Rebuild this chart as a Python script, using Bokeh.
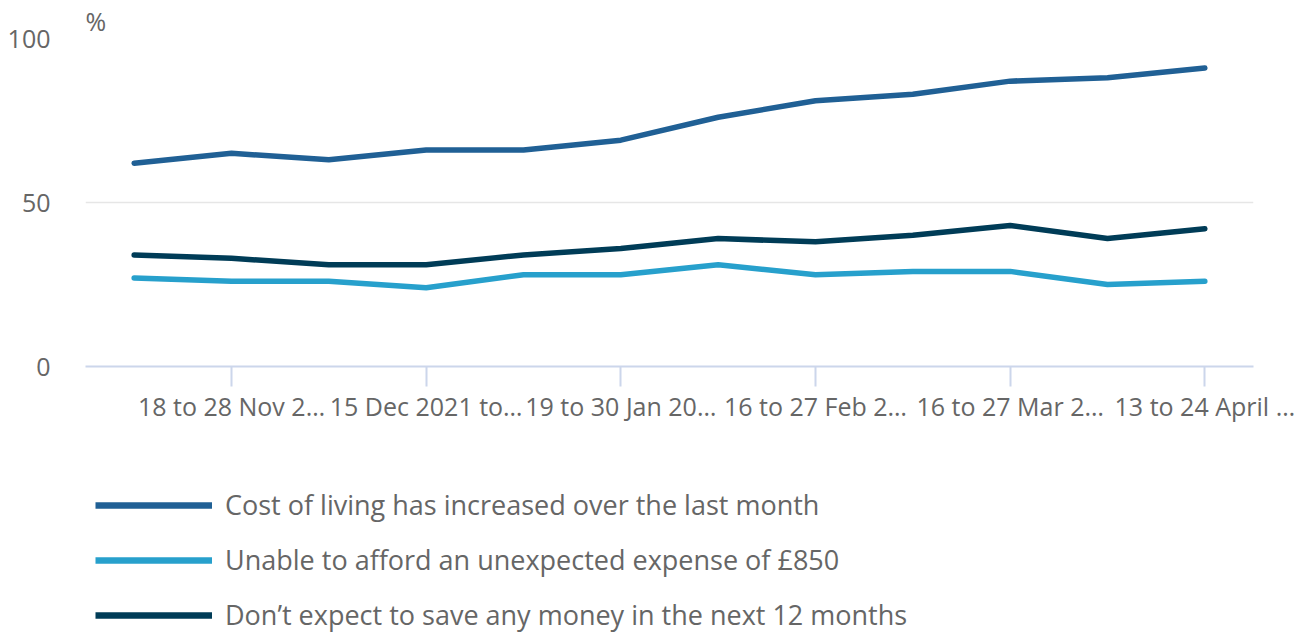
from bokeh.plotting import figure
from bokeh.layouts import column
from bokeh.models import Legend, LegendItem, FixedTicker, Range1d
from bokeh.embed import file_html
from bokeh.resources import INLINE

periods = ["3 to 14 Nov 2021", "18 to 28 Nov 2021", "1 to 12 Dec 2021",
           "15 Dec 2021 to 3 Jan 2022", "6 to 16 Jan 2022", "19 to 30 Jan 2022",
           "2 to 13 Feb 2022", "16 to 27 Feb 2022", "2 to 13 Mar 2022",
           "16 to 27 Mar 2022", "30 Mar to 10 April 2022", "13 to 24 April 2022"]
cost_of_living = [62, 65, 63, 66, 66, 69, 76, 81, 83, 87, 88, 91]
unable_to_afford = [27, 26, 26, 24, 28, 28, 31, 28, 29, 29, 25, 26]
not_saving = [34, 33, 31, 31, 34, 36, 39, 38, 40, 43, 39, 42]
tick_labels = ["18 to 28 Nov 2\u2026", "15 Dec 2021 to\u2026", "19 to 30 Jan 20\u2026",
               "16 to 27 Feb 2\u2026", "16 to 27 Mar 2\u2026", "13 to 24 April \u2026"]
series_names = ["Cost of living has increased over the last month",
                "Unable to afford an unexpected expense of \u00a3850",
                "Don\u2019t expect to save any money in the next 12 months"]
y_ticks = [0, 50, 100]

FONT = "Open Sans"
TXT = "#666666"
colors = ["#206095", "#27a0cc", "#003c57"]
series = [cost_of_living, unable_to_afford, not_saving]

x = list(range(len(periods)))
tick_pos = x[1::2]

W = 1298
H1 = 440
H2 = 193

p = figure(width=W, height=H1, output_backend="svg", toolbar_location=None,
           x_range=Range1d(-0.5, len(periods) - 0.5), y_range=Range1d(0, 100),
           min_border_left=85, min_border_right=45, min_border_top=37,
           min_border_bottom=H1 - 366)
p.outline_line_color = None
p.background_fill_color = "white"

p.title.text = "%"
p.title.align = "left"
p.title.text_font = FONT
p.title.text_font_size = "25px"
p.title.text_font_style = "normal"
p.title.text_color = TXT
p.title.offset = 0
p.title.standoff = 2

for vals, c in zip(series, colors):
    p.line(x, vals, line_color=c, line_width=5.5, line_cap="round", line_join="round")

p.xgrid.visible = False
p.ygrid.ticker = FixedTicker(ticks=[50, 100])
p.ygrid.grid_line_color = "#e6e6e6"
p.ygrid.grid_line_width = 1.5

xa = p.xaxis[0]
xa.ticker = FixedTicker(ticks=tick_pos)
xa.major_label_overrides = {t: lab for t, lab in zip(tick_pos, tick_labels)}
xa.axis_line_color = "#ccd6eb"
xa.axis_line_width = 2
xa.major_tick_line_color = "#ccd6eb"
xa.major_tick_line_width = 2
xa.major_tick_out = 20
xa.major_tick_in = 0
xa.minor_tick_line_color = None
xa.major_label_standoff = 2
xa.major_label_text_font = FONT
xa.major_label_text_font_size = "25px"
xa.major_label_text_color = TXT

ya = p.yaxis[0]
ya.ticker = FixedTicker(ticks=y_ticks)
ya.axis_line_color = None
ya.major_tick_line_color = None
ya.minor_tick_line_color = None
ya.major_tick_out = 0
ya.major_tick_in = 0
ya.major_label_standoff = 35
ya.major_label_text_font = FONT
ya.major_label_text_font_size = "25px"
ya.major_label_text_color = TXT

# legend panel below the chart
p2 = figure(width=W, height=H2, output_backend="svg", toolbar_location=None,
            x_range=Range1d(-0.5, len(periods) - 0.5), y_range=Range1d(200, 300),
            x_axis_location=None, y_axis_location=None,
            min_border_left=0, min_border_right=0, min_border_top=0, min_border_bottom=0)
p2.outline_line_color = None
p2.xgrid.visible = False
p2.ygrid.visible = False
rs = [p2.line(x, vals, line_color=c, line_width=6.5) for vals, c in zip(series, colors)]

legend = Legend(items=[LegendItem(label=n, renderers=[r]) for n, r in zip(series_names, rs)],
                location=(10, 0), orientation="vertical",
                glyph_width=117, glyph_height=20, label_height=20, spacing=18,
                padding=0, margin=0, label_standoff=13,
                label_text_font=FONT, label_text_font_size="27px", label_text_color=TXT,
                border_line_color=None, background_fill_alpha=0)
p2.add_layout(legend, "center")

open("out.html", "w").write(file_html(column(p, p2, spacing=0), INLINE))
